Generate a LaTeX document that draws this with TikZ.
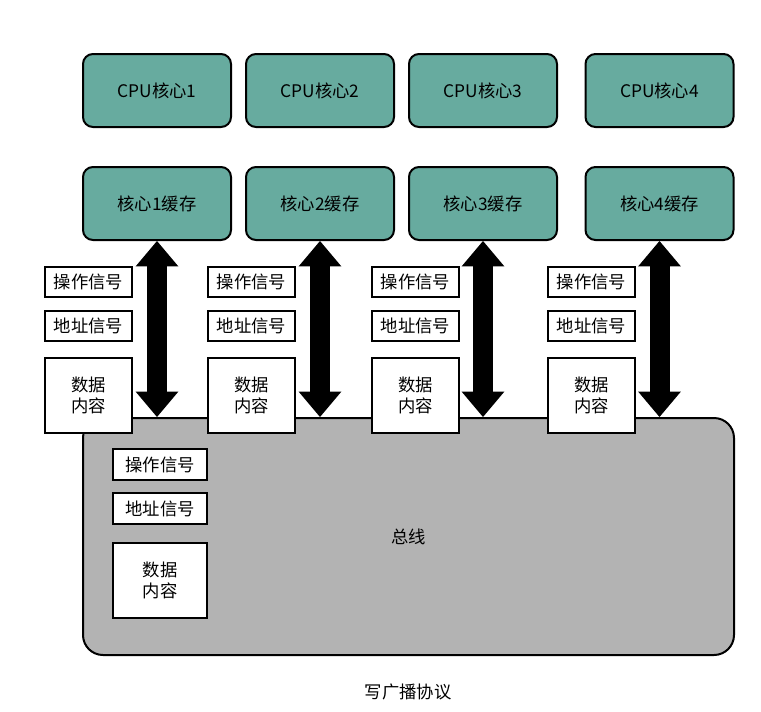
\documentclass[tikz,border=0pt]{standalone}
\usepackage{fontspec}
\setmainfont{Noto Sans CJK SC}
\usetikzlibrary{positioning,arrows.meta}
\definecolor{coreteal}{RGB}{103,171,159}
\definecolor{busgray}{RGB}{179,179,179}
\tikzset{
  corebox/.style={draw, line width=1.5pt, rounded corners=7.5pt, fill=coreteal, minimum width=111pt, minimum height=54.75pt, font=\fontsize{13}{16}\selectfont},
  sigbox/.style={draw, line width=1.5pt, fill=white, minimum width=65.25pt, minimum height=22.5pt, inner sep=0pt, align=center, font=\fontsize{13}{16}\selectfont},
  databox/.style={sigbox, minimum height=56.25pt},
  bussig/.style={sigbox, minimum width=70.5pt, minimum height=23.25pt},
  busdata/.style={bussig, minimum height=56.25pt},
  busbox/.style={draw, line width=1.5pt, rounded corners=15pt, fill=busgray, minimum width=488.25pt, minimum height=177.75pt, font=\fontsize{13}{16}\selectfont},
  dblarrow/.style={{Triangle[width=32pt,length=19pt,line width=0pt]}-{Triangle[width=32pt,length=19pt,line width=0pt]}, line width=15pt}
}

\begin{document}
\begin{tikzpicture}[x=0.75pt, y=-0.75pt]
    \useasboundingbox (0,0) rectangle (761,711);
    % cores and caches
    \node[corebox] (core1) at (157,90.5) {CPU核心1};
    \node[corebox] (core2) at (320,90.5) {CPU核心2};
    \node[corebox] (core3) at (483,90.5) {CPU核心3};
    \node[corebox] (core4) at (659.5,90.5) {CPU核心4};
    \node[corebox, below=28.5pt of core1] (cache1) {核心1缓存};
    \node[corebox, below=28.5pt of core2] (cache2) {核心2缓存};
    \node[corebox, below=28.5pt of core3] (cache3) {核心3缓存};
    \node[corebox, below=28.5pt of core4] (cache4) {核心4缓存};
    % bus
    \node[busbox] (bus) at (408.5,536.5) {总线};
    \node[bussig] (busop) at (160,464.5) {操作信号};
    \node[bussig, below=8.25pt of busop] (busaddr) {地址信号};
    \node[busdata, below=12.75pt of busaddr] (busdata) {数据\\内容};
    % signals per core
    \node[sigbox] (op1) at (88.5,282) {操作信号};
    \node[sigbox] (op2) at (251.5,282) {操作信号};
    \node[sigbox] (op3) at (415.5,282) {操作信号};
    \node[sigbox] (op4) at (591.5,282) {操作信号};
    \node[sigbox, below=9pt of op1] (addr1) {地址信号};
    \node[sigbox, below=9pt of op2] (addr2) {地址信号};
    \node[sigbox, below=9pt of op3] (addr3) {地址信号};
    \node[sigbox, below=9pt of op4] (addr4) {地址信号};
    \node[databox, below=11.25pt of addr1] (data1) {数据\\内容};
    \node[databox, below=11.25pt of addr2] (data2) {数据\\内容};
    \node[databox, below=11.25pt of addr3] (data3) {数据\\内容};
    \node[databox, below=11.25pt of addr4] (data4) {数据\\内容};
    % links
    \draw[dblarrow] (cache1.south) -- (cache1.south |- bus.north);
    \draw[dblarrow] (cache2.south) -- (cache2.south |- bus.north);
    \draw[dblarrow] (cache3.south) -- (cache3.south |- bus.north);
    \draw[dblarrow] (cache4.south) -- (cache4.south |- bus.north);
    \node[font=\fontsize{13}{16}\selectfont] (caption) at (408,692) {写广播协议};
  \end{tikzpicture}
\end{document}
